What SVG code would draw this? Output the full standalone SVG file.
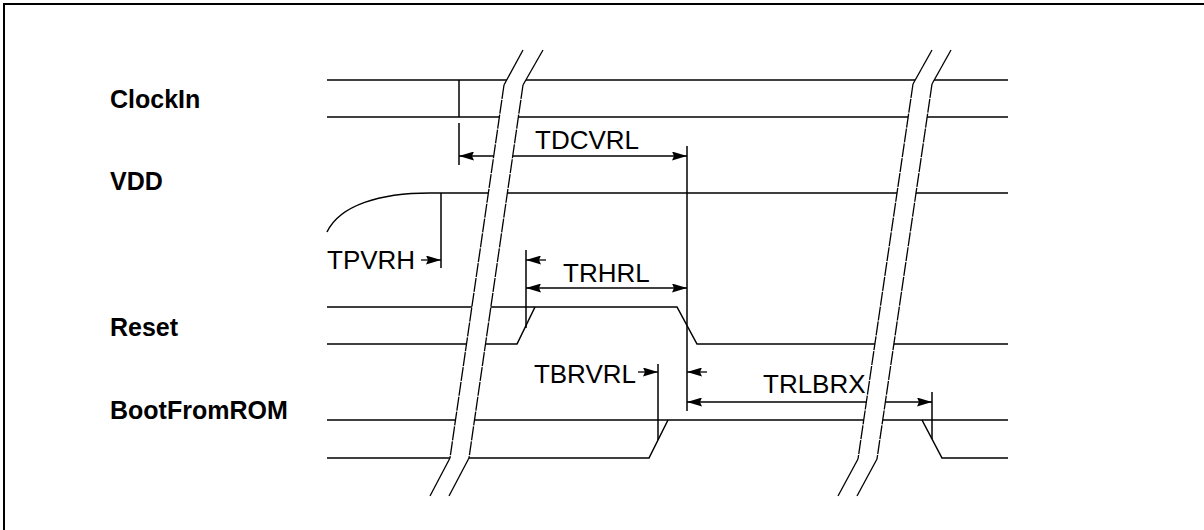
<svg xmlns="http://www.w3.org/2000/svg" width="1204" height="530" viewBox="0 0 1204 530">
<defs>
<style>
.sig{fill:none;stroke:#000;stroke-width:1.5;stroke-linejoin:miter}
.ext{fill:none;stroke:#000;stroke-width:1.5}
.dim{fill:none;stroke:#000;stroke-width:1.3}
.brk{fill:none;stroke:#000;stroke-width:1.3}
.brkd{fill:none;stroke:#000;stroke-width:1.3;stroke-dasharray:14 1}
.mask{fill:#fff;stroke:none}
.lbl{font-family:"Liberation Sans",Arial,sans-serif;font-weight:bold;font-size:25px;fill:#000}
.dt{font-family:"Liberation Sans",Arial,sans-serif;font-size:26px;fill:#000}
</style>
<marker id="ah" viewBox="0 0 15 9" refX="15" refY="4.5" markerWidth="15" markerHeight="9" markerUnits="userSpaceOnUse" orient="auto-start-reverse">
<path d="M0,0 L15,4.5 L0,9 L2,4.5 Z" fill="#000"/>
</marker>
</defs>
<rect x="4" y="4" width="1230" height="560" fill="none" stroke="#000" stroke-width="2"/>

<g id="labels">
<text class="lbl" x="110" y="108">ClockIn</text>
<text class="lbl" x="110" y="190">VDD</text>
<text class="lbl" x="110" y="336">Reset</text>
<text class="lbl" x="110" y="419">BootFromROM</text>
</g>

<g id="node-clockin">
<line class="sig" x1="327" y1="80" x2="1008" y2="80"/>
<line class="sig" x1="327" y1="117" x2="1008" y2="117"/>
</g>
<g id="node-vdd">
<path class="sig" d="M327,232 C340,205 380,193 430,193 L1008,193"/>
</g>
<g id="node-reset">
<path class="sig" d="M327,307 L677,307 L697,344 L1008,344"/>
<path class="sig" d="M327,344 L517,344 L535,307"/>
</g>
<g id="node-bootfromrom">
<line class="sig" x1="327" y1="420" x2="1008" y2="420"/>
<path class="sig" d="M327,458 L649,458 L668,420"/>
<path class="sig" d="M922,420 L942,458 L1008,458"/>
</g>

<g id="connectors">
<line class="ext" x1="459" y1="80" x2="459" y2="117"/>
<line class="ext" x1="459" y1="123" x2="459" y2="165"/>
<line class="ext" x1="687" y1="146" x2="687" y2="411"/>
<line class="ext" x1="441" y1="193" x2="441" y2="268"/>
<line class="ext" x1="526" y1="250" x2="526" y2="328"/>
<line class="ext" x1="658" y1="364" x2="658" y2="440"/>
<line class="ext" x1="932" y1="392" x2="932" y2="439"/>

<line class="dim" x1="459" y1="156" x2="687" y2="156" marker-start="url(#ah)" marker-end="url(#ah)"/>
<line class="dim" x1="526" y1="288" x2="687" y2="288" marker-start="url(#ah)" marker-end="url(#ah)"/>
<line class="dim" x1="421" y1="260" x2="441" y2="260" marker-end="url(#ah)"/>
<line class="dim" x1="546" y1="260" x2="526" y2="260" marker-end="url(#ah)"/>
<line class="dim" x1="638" y1="372" x2="658" y2="372" marker-end="url(#ah)"/>
<line class="dim" x1="707" y1="372" x2="687" y2="372" marker-end="url(#ah)"/>
<line class="dim" x1="687" y1="402" x2="932" y2="402" marker-start="url(#ah)" marker-end="url(#ah)"/>

<text class="dt" x="535" y="149">TDCVRL</text>
<text class="dt" x="563" y="282">TRHRL</text>
<text class="dt" x="327" y="269">TPVRH</text>
<text class="dt" x="636" y="383" text-anchor="end">TBRVRL</text>
<text class="dt" x="763" y="393">TRLBRX</text>
</g>

<g id="break-1">
<polygon class="mask" points="523,50 543,50 523,85 469,458 449,496 430,496 450,458 504,85"/>
<polyline class="brk" points="523,50 504,85"/>
<polyline class="brkd" points="504,85 450,458"/>
<polyline class="brk" points="450,458 430,496"/>
<polyline class="brk" points="543,50 523,85"/>
<polyline class="brkd" points="523,85 469,458"/>
<polyline class="brk" points="469,458 449,496"/>
</g>
<g id="break-2">
<polygon class="mask" points="932,50 951,50 932,84 877,459 857,496 838,496 858,459 913,84"/>
<polyline class="brk" points="932,50 913,84"/>
<polyline class="brkd" points="913,84 858,459"/>
<polyline class="brk" points="858,459 838,496"/>
<polyline class="brk" points="951,50 932,84"/>
<polyline class="brkd" points="932,84 877,459"/>
<polyline class="brk" points="877,459 857,496"/>
</g>
</svg>
